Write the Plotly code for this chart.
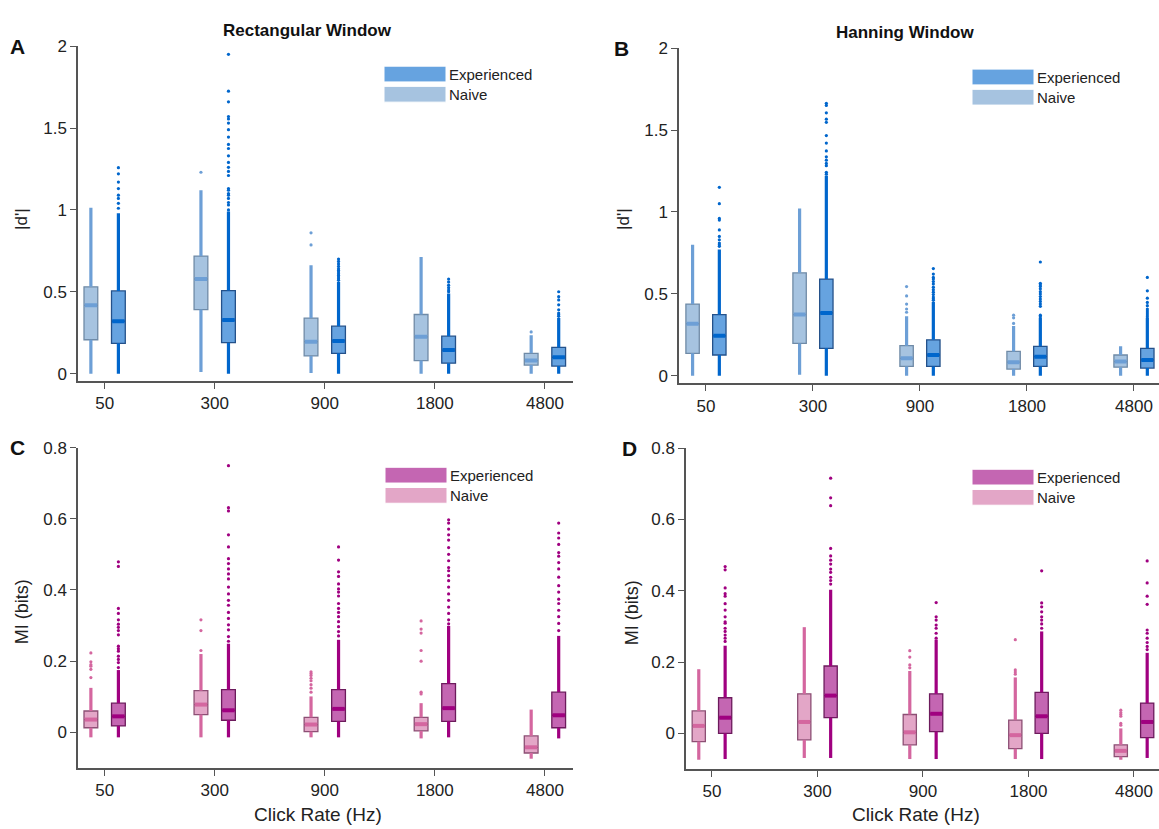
import plotly.graph_objects as go

W, H = 1159, 829

rates = ["50", "300", "900", "1800", "4800"]

# ---------------- Panel A : |d'| Rectangular window ----------------
A_naive_lo = [0.0, 0.01, 0.004, 0.0, 0.0]
A_naive_q1 = [0.207, 0.391, 0.108, 0.08, 0.052]
A_naive_med = [0.417, 0.578, 0.195, 0.225, 0.08]
A_naive_q3 = [0.53, 0.718, 0.339, 0.361, 0.124]
A_naive_hi = [1.013, 1.12, 0.662, 0.712, 0.235]
A_naive_out = [[], [1.23], [0.86, 0.786], [], [0.255]]

A_exp_lo = [0.0, 0.0, 0.0, 0.0, 0.0]
A_exp_q1 = [0.185, 0.189, 0.124, 0.064, 0.046]
A_exp_med = [0.32, 0.327, 0.2, 0.144, 0.1]
A_exp_q3 = [0.505, 0.507, 0.29, 0.229, 0.16]
A_exp_hi = [0.98, 0.99, 0.56, 0.49, 0.34]
A_exp_out = [
    [1.258, 1.22, 1.17, 1.13, 1.09, 1.07, 1.04, 1.01],
    [1.95, 1.725, 1.66, 1.57, 1.555, 1.53, 1.49, 1.445, 1.40, 1.375, 1.33, 1.29,
     1.26, 1.235, 1.21, 1.13, 1.12, 1.10, 1.09, 1.07, 1.045, 1.03, 1.0],
    [0.70, 0.685, 0.67, 0.655, 0.64, 0.63, 0.62, 0.61, 0.60, 0.59, 0.58, 0.57],
    [0.578, 0.56, 0.54, 0.525, 0.51, 0.5],
    [0.5, 0.47, 0.45, 0.42, 0.39, 0.37, 0.36, 0.35],
]

# ---------------- Panel B : |d'| Hanning window ----------------
B_naive_lo = [0.0, 0.006, 0.0, 0.0, 0.0]
B_naive_q1 = [0.136, 0.197, 0.056, 0.04, 0.052]
B_naive_med = [0.317, 0.373, 0.106, 0.082, 0.086]
B_naive_q3 = [0.437, 0.628, 0.183, 0.148, 0.126]
B_naive_hi = [0.80, 1.02, 0.363, 0.303, 0.179]
B_naive_out = [[], [], [0.544, 0.487, 0.437, 0.407, 0.387], [0.369, 0.353, 0.319], []]

B_exp_lo = [0.0, 0.0, 0.0, 0.0, 0.0]
B_exp_q1 = [0.126, 0.167, 0.056, 0.056, 0.046]
B_exp_med = [0.243, 0.383, 0.126, 0.116, 0.096]
B_exp_q3 = [0.373, 0.59, 0.219, 0.179, 0.167]
B_exp_hi = [0.77, 1.22, 0.45, 0.353, 0.353]
B_exp_out = [
    [1.15, 1.05, 0.96, 0.95, 0.89, 0.85, 0.83, 0.81, 0.80, 0.79],
    [1.663, 1.65, 1.605, 1.566, 1.547, 1.466, 1.42, 1.372, 1.336, 1.316, 1.296,
     1.282, 1.242, 1.23],
    [0.654, 0.62, 0.6, 0.59, 0.575, 0.56, 0.54, 0.525, 0.51, 0.495, 0.48, 0.47, 0.46],
    [0.694, 0.564, 0.554, 0.544, 0.53, 0.513, 0.498, 0.483, 0.468, 0.453, 0.438,
     0.423, 0.369, 0.36],
    [0.60, 0.518, 0.473, 0.447, 0.427, 0.407, 0.395, 0.383, 0.371, 0.359],
]

# ---------------- Panel C : MI Rectangular window ----------------
C_naive_lo = [-0.014, -0.014, -0.014, -0.017, -0.074]
C_naive_q1 = [0.013, 0.05, 0.002, 0.004, -0.058]
C_naive_med = [0.036, 0.078, 0.022, 0.023, -0.042]
C_naive_q3 = [0.06, 0.117, 0.042, 0.042, -0.01]
C_naive_hi = [0.125, 0.22, 0.101, 0.082, 0.064]
C_naive_out = [
    [0.223, 0.198, 0.19, 0.186, 0.177, 0.154],
    [0.316, 0.286, 0.23],
    [0.17, 0.165, 0.16, 0.152, 0.145, 0.134, 0.124, 0.113],
    [0.313, 0.29, 0.279, 0.23, 0.2, 0.113, 0.108],
    [],
]

C_exp_lo = [-0.014, -0.014, -0.014, -0.014, -0.017]
C_exp_q1 = [0.018, 0.034, 0.031, 0.031, 0.013]
C_exp_med = [0.045, 0.062, 0.066, 0.068, 0.048]
C_exp_q3 = [0.082, 0.12, 0.12, 0.137, 0.113]
C_exp_hi = [0.175, 0.249, 0.26, 0.299, 0.271]
C_exp_out = [
    [0.479, 0.466, 0.348, 0.334, 0.316, 0.304, 0.295, 0.286, 0.274, 0.242, 0.235,
     0.228, 0.214, 0.205, 0.196, 0.182],
    [0.749, 0.631, 0.622, 0.555, 0.521, 0.488, 0.474, 0.459, 0.445, 0.431, 0.408,
     0.389, 0.371, 0.357, 0.337, 0.32, 0.302, 0.288, 0.269, 0.256],
    [0.521, 0.484, 0.451, 0.438, 0.417, 0.403, 0.394, 0.383, 0.362, 0.348, 0.337,
     0.325, 0.311, 0.297, 0.283, 0.271],
    [0.597, 0.588, 0.571, 0.555, 0.54, 0.519, 0.5, 0.482, 0.463, 0.454, 0.44, 0.426,
     0.408, 0.389, 0.371, 0.352, 0.334, 0.316, 0.305],
    [0.588, 0.56, 0.546, 0.528, 0.505, 0.495, 0.477, 0.459, 0.436, 0.412, 0.394,
     0.374, 0.362, 0.343, 0.325, 0.306, 0.286],
]

# ---------------- Panel D : MI Hanning window ----------------
D_naive_lo = [-0.074, -0.069, -0.072, -0.072, -0.074]
D_naive_q1 = [-0.023, -0.018, -0.032, -0.043, -0.065]
D_naive_med = [0.021, 0.032, 0.003, -0.005, -0.049]
D_naive_q3 = [0.063, 0.111, 0.053, 0.037, -0.032]
D_naive_hi = [0.18, 0.298, 0.175, 0.157, 0.014]
D_naive_out = [[], [], [0.232, 0.214, 0.192, 0.184], [0.263, 0.178, 0.172, 0.166],
               [0.065, 0.058, 0.053, 0.048, 0.028, 0.023]]

D_exp_lo = [-0.072, -0.069, -0.072, -0.072, -0.069]
D_exp_q1 = [0.0, 0.044, 0.005, 0.0, -0.012]
D_exp_med = [0.044, 0.106, 0.055, 0.048, 0.032]
D_exp_q3 = [0.1, 0.189, 0.111, 0.115, 0.085]
D_exp_hi = [0.246, 0.403, 0.263, 0.286, 0.226]
D_exp_out = [
    [0.468, 0.459, 0.408, 0.392, 0.385, 0.364, 0.346, 0.327, 0.313, 0.309, 0.295,
     0.286, 0.276, 0.267, 0.258],
    [0.716, 0.661, 0.639, 0.519, 0.498, 0.486, 0.475, 0.461, 0.452, 0.438, 0.429, 0.419],
    [0.367, 0.327, 0.318, 0.304, 0.295, 0.281, 0.267],
    [0.456, 0.366, 0.355, 0.341, 0.327, 0.318, 0.307, 0.295],
    [0.484, 0.422, 0.385, 0.362, 0.29, 0.281, 0.267, 0.255, 0.244, 0.235],
]

# ---------------- styles ----------------
BLUE = dict(
    naive=dict(fill="#a6c3e0", edge="#6f8aa6", wh="#6d9fd6", med="#6d9fd6"),
    exp=dict(fill="#66a3e0", edge="#24518a", wh="#0066cc", med="#0066cc"),
)
PINK = dict(
    naive=dict(fill="#e3a6c7", edge="#8c4f74", wh="#d4669f", med="#d4669f"),
    exp=dict(fill="#c466b2", edge="#6c1b5c", wh="#a00080", med="#a00080"),
)

BOXW = 0.125
OFF = 0.125
FONT = "Liberation Sans, Arial, sans-serif"

fig = go.Figure()


def add_group(ax, lo, q1, med, q3, hi, outs, offset, sty):
    xa = "x" + ("" if ax == 1 else str(ax))
    ya = "y" + ("" if ax == 1 else str(ax))
    pos = [i + offset for i in range(len(rates))]
    # whiskers
    wx, wy = [], []
    for p, l, a, b, h in zip(pos, lo, q1, q3, hi):
        wx += [p, p, None, p, p, None]
        wy += [l, a, None, b, h, None]
    fig.add_trace(go.Scatter(x=wx, y=wy, mode="lines", xaxis=xa, yaxis=ya,
                             line=dict(color=sty["wh"], width=3.2),
                             hoverinfo="skip", showlegend=False))
    # outliers
    ox, oy = [], []
    for p, o in zip(pos, outs):
        ox += [p] * len(o)
        oy += list(o)
    fig.add_trace(go.Scatter(x=ox, y=oy, mode="markers", xaxis=xa, yaxis=ya,
                             marker=dict(color=sty["wh"], size=3.2, line=dict(width=0)),
                             hoverinfo="skip", showlegend=False))
    # boxes (fill + outline)
    fig.add_trace(go.Box(x=pos, q1=q1, median=med, q3=q3, lowerfence=q1, upperfence=q3,
                         width=BOXW, fillcolor=sty["fill"], xaxis=xa, yaxis=ya,
                         line=dict(color=sty["edge"], width=1.3), whiskerwidth=0,
                         boxpoints=False, hoverinfo="skip", showlegend=False))
    # medians
    mx, my = [], []
    for p, m in zip(pos, med):
        mx += [p - BOXW / 2 + 0.006, p + BOXW / 2 - 0.006, None]
        my += [m, m, None]
    fig.add_trace(go.Scatter(x=mx, y=my, mode="lines", xaxis=xa, yaxis=ya,
                             line=dict(color=sty["med"], width=4),
                             hoverinfo="skip", showlegend=False))


add_group(1, A_naive_lo, A_naive_q1, A_naive_med, A_naive_q3, A_naive_hi, A_naive_out, -OFF, BLUE["naive"])
add_group(1, A_exp_lo, A_exp_q1, A_exp_med, A_exp_q3, A_exp_hi, A_exp_out, OFF, BLUE["exp"])
add_group(2, B_naive_lo, B_naive_q1, B_naive_med, B_naive_q3, B_naive_hi, B_naive_out, -OFF, BLUE["naive"])
add_group(2, B_exp_lo, B_exp_q1, B_exp_med, B_exp_q3, B_exp_hi, B_exp_out, OFF, BLUE["exp"])
add_group(3, C_naive_lo, C_naive_q1, C_naive_med, C_naive_q3, C_naive_hi, C_naive_out, -OFF, PINK["naive"])
add_group(3, C_exp_lo, C_exp_q1, C_exp_med, C_exp_q3, C_exp_hi, C_exp_out, OFF, PINK["exp"])
add_group(4, D_naive_lo, D_naive_q1, D_naive_med, D_naive_q3, D_naive_hi, D_naive_out, -OFF, PINK["naive"])
add_group(4, D_exp_lo, D_exp_q1, D_exp_med, D_exp_q3, D_exp_hi, D_exp_out, OFF, PINK["exp"])


def px(x):
    return x / W


def py(y):
    return 1 - y / H


axis_common = dict(showline=True, linecolor="#555", linewidth=1.5, ticks="outside",
                   ticklen=6, tickwidth=1.3, tickcolor="#555", showgrid=False,
                   zeroline=False, tickfont=dict(family=FONT, size=17, color="#222"),
                   fixedrange=True)

xt = dict(tickmode="array", tickvals=list(range(len(rates))), ticktext=rates)
yt_d = dict(tickmode="array", tickvals=[0, 0.5, 1, 1.5, 2], ticktext=["0", "0.5", "1", "1.5", "2"])
yt_mi = dict(tickmode="array", tickvals=[0, 0.2, 0.4, 0.6, 0.8], ticktext=["0", "0.2", "0.4", "0.6", "0.8"])

fig.update_layout(
    width=W, height=H, margin=dict(l=0, r=0, t=0, b=0),
    paper_bgcolor="white", plot_bgcolor="white", showlegend=False,
    xaxis=dict(domain=[px(78), px(573)], range=[-0.242, 4.255], anchor="y", **xt, **axis_common),
    yaxis=dict(domain=[py(377.3), py(37.7)], range=[-0.044, 2.0], anchor="x", **yt_d, **axis_common),
    xaxis2=dict(domain=[px(679), 1.0], range=[-0.252, 4.234], anchor="y2", **xt, **axis_common),
    yaxis2=dict(domain=[py(380), py(39.7)], range=[-0.048, 2.0], anchor="x2", **yt_d, **axis_common),
    xaxis3=dict(domain=[px(78), px(573)], range=[-0.242, 4.255], anchor="y3", **xt, **axis_common),
    yaxis3=dict(domain=[py(770), py(445)], range=[-0.0997, 0.8], anchor="x3", **yt_mi, **axis_common),
    xaxis4=dict(domain=[px(686), 1.0], range=[-0.246, 4.237], anchor="y4", **xt, **axis_common),
    yaxis4=dict(domain=[py(771), py(445.7)], range=[-0.0995, 0.8], anchor="x4", **yt_mi, **axis_common),
)

ann = []
shapes = []


def text(x, y, s, size, bold=False, angle=0, anchor="center"):
    ann.append(dict(x=px(x), y=py(y), xref="paper", yref="paper", text=("<b>%s</b>" % s) if bold else s,
                    showarrow=False, textangle=angle, xanchor=anchor, yanchor="middle",
                    font=dict(family=FONT, size=size, color="#111" if bold else "#222")))


# titles and panel letters
text(307, 22, "Rectangular Window", 17, bold=True)
text(905, 24, "Hanning Window", 17, bold=True)
text(17, 38, "A", 21, bold=True)
text(621, 40, "B", 21, bold=True)
text(17, 445, "C", 21, bold=True)
text(629, 446, "D", 21, bold=True)
# axis titles
text(22, 213, "|d'|", 17, angle=-90)
text(624, 213, "|d'|", 17, angle=-90)
text(22, 612, "MI (bits)", 18, angle=-90)
text(632, 613, "MI (bits)", 18, angle=-90)
text(318, 817, "Click Rate (Hz)", 19)
text(916, 817, "Click Rate (Hz)", 19)


def legend(x0, y0, sty):
    # y0: top of experienced swatch
    for k, (lab, key) in enumerate([("Experienced", "exp"), ("Naive", "naive")]):
        top = y0 + k * 20.5
        shapes.append(dict(type="rect", xref="paper", yref="paper",
                           x0=px(x0), x1=px(x0 + 62), y0=py(top + 16), y1=py(top),
                           fillcolor=sty[key]["fill"], line=dict(color="#ffffff", width=1)))
        ann.append(dict(x=px(x0 + 63), y=py(top + 8.5), xref="paper", yref="paper", text=lab,
                        showarrow=False, xanchor="left", yanchor="middle",
                        font=dict(family=FONT, size=15, color="#222")))


legend(384, 58, BLUE)
legend(972, 61, BLUE)
legend(385, 465, PINK)
legend(972, 467, PINK)

fig.update_layout(annotations=ann, shapes=shapes)

fig.write_html("out.html")
